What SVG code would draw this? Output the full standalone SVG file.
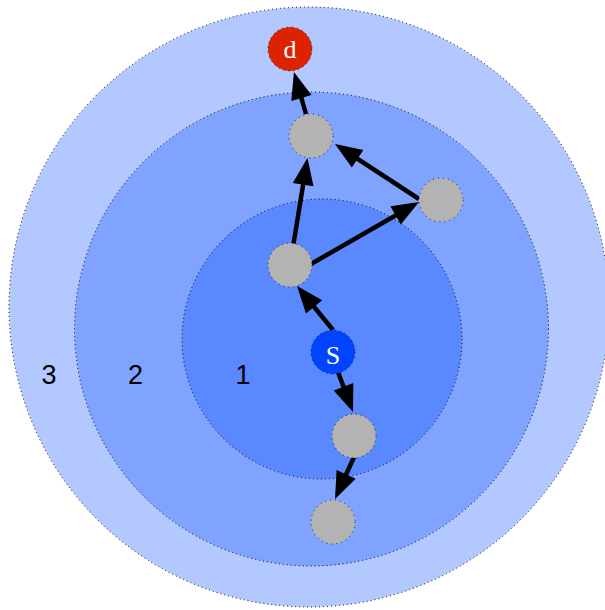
<svg xmlns="http://www.w3.org/2000/svg" width="605" height="610" viewBox="0 0 605 610">
<style>
.ring{stroke:#000;stroke-width:1;stroke-dasharray:1 3}
.node{fill:#b3b3b3;stroke:#000;stroke-width:0.8;stroke-dasharray:1 4}
.edge{stroke:#000;stroke-width:4.5;fill:none;marker-end:url(#ah)}
.lbl{font-family:"Liberation Sans",Arial,sans-serif;font-size:27px;fill:#000;text-anchor:middle}
.nl{font-family:"Liberation Serif","Times New Roman",serif;font-size:26px;fill:#fff;text-anchor:middle}
</style>
<defs>
<marker id="ah" markerUnits="userSpaceOnUse" markerWidth="27" markerHeight="21" refX="21" refY="10.5" orient="auto" overflow="visible">
<path d="M0,0 L27,10.5 L0,21 z" fill="#000"/>
</marker>
</defs>
<rect width="605" height="610" fill="#fff"/>
<g id="zones">
<circle class="ring" cx="309" cy="307" r="300" fill="#b3c8ff"/>
<circle class="ring" cx="311.5" cy="329" r="237" fill="#7fa3ff"/>
<circle class="ring" cx="322" cy="339" r="140" fill="#5a88ff"/>
<text class="lbl" x="49" y="384">3</text>
<text class="lbl" x="135.5" y="384">2</text>
<text class="lbl" x="243" y="384">1</text>
</g>
<g id="connectors">
<line class="edge" x1="306" y1="114" x2="295.6" y2="77.8"/>
<line class="edge" x1="293.5" y1="244" x2="306.5" y2="163.9"/>
<line class="edge" x1="311" y1="264" x2="413.8" y2="205"/>
<line class="edge" x1="419" y1="199" x2="340" y2="147.3"/>
<line class="edge" x1="333" y1="330" x2="300.8" y2="290.6"/>
<line class="edge" x1="338" y1="372" x2="350.9" y2="406.4"/>
<line class="edge" x1="354" y1="457" x2="337.5" y2="493.5"/>
</g>
<g id="node-d">
<circle cx="290" cy="49" r="22" fill="#dd2200" stroke="#000" stroke-width="0.8" stroke-dasharray="1 4"/>
<text class="nl" x="290" y="57.5">d</text>
</g>
<g id="node-n1"><circle class="node" cx="311" cy="136" r="22"/></g>
<g id="node-n2"><circle class="node" cx="441" cy="200" r="22"/></g>
<g id="node-n3"><circle class="node" cx="290" cy="265" r="22"/></g>
<g id="node-s">
<circle cx="333" cy="352" r="22" fill="#0044ff" stroke="#000" stroke-width="0.8" stroke-dasharray="1 4"/>
<text class="nl" x="333" y="363.5">S</text>
</g>
<g id="node-n4"><circle class="node" cx="354" cy="436" r="22"/></g>
<g id="node-n5"><circle class="node" cx="333" cy="522" r="22"/></g>
</svg>
